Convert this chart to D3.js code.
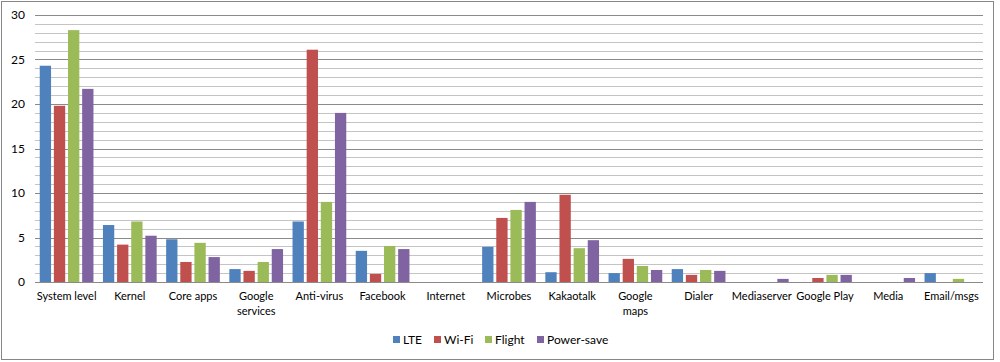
<!DOCTYPE html>
<html>
<head>
<meta charset="utf-8">
<script src="https://cdn.jsdelivr.net/npm/d3@7"></script>
<style>
  body { margin: 0; background: #fff; }
  text { font-family: Lato, "Noto Sans", sans-serif; font-size: 11px; fill: #000; }
  .ytick text, .legend text { font-size: 12px; }
</style>
</head>
<body>
<script>
// chart values
const categories = ["System level", "Kernel", "Core apps", "Google services", "Anti-virus",
  "Facebook", "Internet", "Microbes", "Kakaotalk", "Google maps", "Dialer",
  "Mediaserver", "Google Play", "Media", "Email/msgs"];
const seriesNames = ["LTE", "Wi-Fi", "Flight", "Power-save"];
const lte       = [24.3, 6.4, 4.8, 1.45, 6.8, 3.5, 0, 3.95, 1.1, 1.0, 1.45, 0, 0, 0, 1.0];
const wifi      = [19.8, 4.2, 2.25, 1.25, 26.1, 0.9, 0, 7.2, 9.8, 2.6, 0.8, 0, 0.45, 0, 0];
const flight    = [28.3, 6.8, 4.4, 2.25, 9.0, 4.05, 0, 8.1, 3.8, 1.8, 1.35, 0, 0.8, 0, 0.35];
const powerSave = [21.7, 5.2, 2.8, 3.7, 19.0, 3.7, 0, 9.0, 4.7, 1.35, 1.25, 0.35, 0.8, 0.45, 0];
const yTicks = [0, 5, 10, 15, 20, 25, 30];

const colors = ["#4f81bd", "#c0504d", "#9bbb59", "#8064a2"];
const series = [lte, wifi, flight, powerSave];

const width = 1000, height = 362;
const margin = {top: 15, right: 17, bottom: 80, left: 35};

const svg = d3.select("body").append("svg")
  .attr("width", width)
  .attr("height", height);

// outer frame
svg.append("rect")
  .attr("x", 1.5).attr("y", 1.5)
  .attr("width", 992).attr("height", 358)
  .attr("fill", "none")
  .attr("stroke", "#868686");

const x = d3.scaleBand()
  .domain(categories)
  .range([margin.left, width - margin.right])
  .paddingInner(0.15)
  .paddingOuter(0.075);

const xs = d3.scaleBand()
  .domain(d3.range(series.length))
  .range([0, x.bandwidth()])
  .paddingInner(0.2);

const y = d3.scaleLinear()
  .domain([0, 30])
  .range([282, margin.top]);

// minor gridlines every 1, major every 5
const minor = d3.range(1, 31).filter(v => v % 5 !== 0);
svg.append("g").selectAll("line")
  .data(minor)
  .join("line")
  .attr("x1", margin.left).attr("x2", width - margin.right)
  .attr("y1", d => Math.round(y(d)) + 0.5).attr("y2", d => Math.round(y(d)) + 0.5)
  .attr("stroke", "#c4c4c4");

svg.append("g").selectAll("line")
  .data(yTicks.filter(d => d > 0))
  .join("line")
  .attr("x1", margin.left).attr("x2", width - margin.right)
  .attr("y1", d => Math.round(y(d)) + 0.5).attr("y2", d => Math.round(y(d)) + 0.5)
  .attr("stroke", "#8a8a8a");

// y axis labels
const yAxis = d3.axisLeft(y).tickValues(yTicks).tickSize(0).tickPadding(10);
svg.append("g")
  .attr("class", "ytick")
  .attr("transform", `translate(${margin.left},0)`)
  .call(yAxis)
  .call(g => g.select(".domain").remove())
  .call(g => g.selectAll("text").style("font-family", null).style("font-size", null));

// bars
const groups = svg.append("g").selectAll("g")
  .data(categories)
  .join("g")
  .attr("transform", d => `translate(${x(d)},0)`);

groups.selectAll("rect")
  .data((d, i) => series.map((s, k) => ({k: k, v: s[i]})))
  .join("rect")
  .attr("x", d => xs(d.k))
  .attr("width", xs.bandwidth())
  .attr("y", d => y(d.v))
  .attr("height", d => y(0) - y(d.v))
  .attr("fill", d => colors[d.k]);

// baseline
svg.append("line")
  .attr("x1", margin.left).attr("x2", width - margin.right)
  .attr("y1", Math.round(y(0)) + 0.5).attr("y2", Math.round(y(0)) + 0.5)
  .attr("stroke", "#8a8a8a");

// x axis labels, wrapped when wider than the band
const xAxis = d3.axisBottom(x).tickSize(0).tickPadding(10);
const xg = svg.append("g")
  .attr("transform", `translate(0,${y(0)})`)
  .call(xAxis)
  .call(g => g.select(".domain").remove());
xg.selectAll("text")
  .style("font-family", null).style("font-size", null)
  .each(function(d) {
    const t = d3.select(this);
    if (this.getComputedTextLength() > x.step() - 2) {
      const words = d.split(" ");
      t.text(null);
      words.forEach((w, i) => {
        t.append("tspan").attr("x", 0).attr("dy", i === 0 ? "0.71em" : "1.4em").text(w);
      });
      t.attr("dy", null);
    }
  });

// legend
const legendX = [393, 434, 485, 537];
const legend = svg.append("g").attr("class", "legend").selectAll("g")
  .data(seriesNames)
  .join("g")
  .attr("transform", (d, i) => `translate(${legendX[i]},336)`);
legend.append("rect")
  .attr("width", 7).attr("height", 7)
  .attr("fill", (d, i) => colors[i]);
legend.append("text")
  .attr("x", 10).attr("y", 4)
  .attr("dy", "0.35em")
  .text(d => d);
</script>
</body>
</html>
